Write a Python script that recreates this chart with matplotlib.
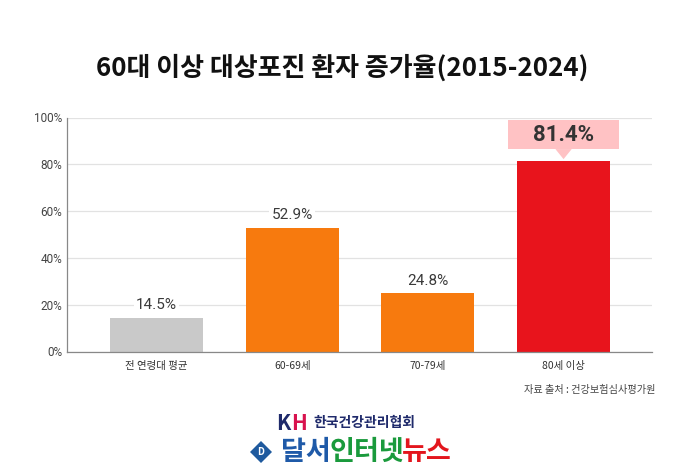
import matplotlib
matplotlib.use("Agg")
import matplotlib.pyplot as plt
from matplotlib.patches import Polygon, Rectangle

plt.rcParams['font.family'] = ['Noto Sans CJK KR', 'DejaVu Sans']
NUM_FONT = ['Roboto', 'Noto Sans CJK KR', 'DejaVu Sans']

title = "60대 이상 대상포진 환자 증가율(2015-2024)"
categories = ["전 연령대 평균", "60-69세", "70-79세", "80세 이상"]
values = [14.5, 52.9, 24.8, 81.4]
yticks = [0, 20, 40, 60, 80, 100]
ytick_labels = ["0%", "20%", "40%", "60%", "80%", "100%"]
source = "자료 출처 : 건강보험심사평가원"
colors = ["#c9c9c9", "#f77a0e", "#f77a0e", "#e8141c"]

fig = plt.figure(figsize=(7, 4.7), dpi=100)
fig.patch.set_facecolor("white")
ax = fig.add_axes([67/700, 118.5/470, 585/700, 234/470])

x = list(range(len(categories)))
ax.bar(x, values, width=0.686, color=colors, zorder=2)
ax.set_xlim(-0.66, 3.652)
ax.set_ylim(0, 100)
ax.set_yticks(yticks)
ax.set_yticklabels(ytick_labels, fontsize=8.5, color="#444444", family=NUM_FONT)
ax.set_xticks(x)
ax.set_xticklabels(categories, fontsize=7.5, color="#333333")
ax.tick_params(axis="y", length=0, pad=3.5)
ax.tick_params(axis="x", length=0, pad=7)
ax.grid(axis="y", color="#e2e2e2", linewidth=0.9, zorder=0)
for s in ["top", "right"]:
    ax.spines[s].set_visible(False)
ax.spines["left"].set_color("#888888")
ax.spines["bottom"].set_color("#888888")
ax.spines["left"].set_linewidth(0.9)
ax.spines["bottom"].set_linewidth(0.9)

for i, v in enumerate(values[:-1]):
    ax.text(i, v + 2.5, f"{v}%", ha="center", va="bottom", fontsize=11,
            color="#3a3a3a", zorder=3, family=NUM_FONT,
            bbox=dict(boxstyle="square,pad=0.15", fc="white", ec="none"))

# Highlighted label for the last bar: pink box with a pointer
i = len(values) - 1
v = values[i]
pink = "#ffc2c4"
box_lo, box_hi, half_w = v + 5.1, v + 17.5, 0.41
ax.add_patch(Rectangle((i - half_w, box_lo), 2 * half_w, box_hi - box_lo,
                       fc=pink, ec="none", zorder=3, clip_on=False))
ax.add_patch(Polygon([(i - 0.06, box_lo), (i + 0.06, box_lo), (i, v + 0.8)],
                     closed=True, fc=pink, ec="none", zorder=3, clip_on=False))
ax.text(i, (box_lo + box_hi) / 2, f"{v}%", ha="center", va="center",
        fontsize=16, fontweight="bold", color="#333333", zorder=4,
        family=NUM_FONT)

fig.text(342/700, 1 - 68/470, title, ha="center", va="center",
         fontsize=18.7, fontweight=900, color="#111111")
fig.text(656/700, 1 - 390/470, source, ha="right", va="center",
         fontsize=7.3, color="#444444")

# logos as text
fig.text(276/700, 1 - 423/470, "K", ha="left", va="center", fontsize=15,
         fontweight="heavy", color="#1f2a6b", style="italic")
fig.text(291/700, 1 - 423/470, "H", ha="left", va="center", fontsize=15,
         fontweight="heavy", color="#d8124e", style="italic")
fig.text(313/700, 1 - 423/470, "한국건강관리협회", ha="left", va="center",
         fontsize=10, fontweight="bold", color="#1f2a6b")
dx, dy = 261/700, 1 - 452/470
diam = Polygon([(dx - 11/700, dy), (dx, dy + 11/470), (dx + 11/700, dy),
                (dx, dy - 11/470)], closed=True, transform=fig.transFigure,
               fc="#1f5a9e", ec="none")
fig.patches.append(diam)
fig.text(dx, dy, "D", ha="center", va="center", fontsize=7,
         fontweight="bold", color="white")
fig.text(281/700, dy, "달서", ha="left", va="center", fontsize=19.5,
         fontweight="bold", color="#1f5aa8")
fig.text(330/700, dy, "인터넷", ha="left", va="center", fontsize=19.5,
         fontweight="bold", color="#1a9a3c")
fig.text(402/700, dy, "뉴스", ha="left", va="center", fontsize=19.5,
         fontweight="heavy", color="#e3161d")

fig.savefig("out.png", dpi=100)
